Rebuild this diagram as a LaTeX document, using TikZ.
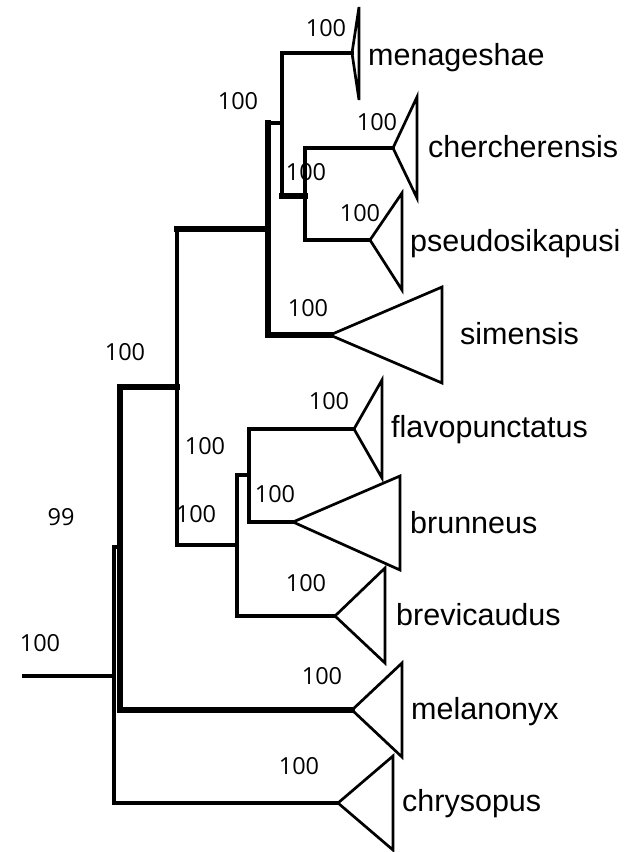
\documentclass[tikz,border=0pt]{standalone}
\usepackage{fontspec}
\setmainfont{Liberation Sans}
\newfontfamily\numfont{Open Sans}
\begin{document}
\begin{tikzpicture}[x=1pt,y=-1pt,
  thinbr/.style={line width=3.3pt,line cap=rect,line join=miter},
  medbr/.style={line width=4pt,line cap=rect,line join=miter},
  thickbr/.style={line width=5.2pt,line cap=rect,line join=miter},
  clade/.style={line width=2.7pt,line join=miter},
  supp/.style={font=\numfont\fontsize{23.5}{28}\selectfont,inner sep=0pt,anchor=base},
  taxon/.style={font=\fontsize{30.5}{36}\selectfont,inner sep=0pt,anchor=base west}]
\useasboundingbox (0,0) rectangle (638,852);
% ---- tree coordinates ----
\coordinate (root) at (24,676);
\coordinate (rA) at (114,676);
\coordinate (rAt) at (114,547);
\coordinate (rAtk) at (120,547);
\coordinate (rAb) at (114,803);
\coordinate (chrA) at (338,803);
\coordinate (bT) at (120,387);
\coordinate (bB) at (120,710);
\coordinate (melA) at (352,710);
\coordinate (cL) at (177,387);
\coordinate (cT) at (177,229);
\coordinate (cB) at (177,545);
\coordinate (dT) at (268,229);
\coordinate (dTop) at (268,123);
\coordinate (dB) at (268,335);
\coordinate (simA) at (330,335);
\coordinate (eT) at (282,123);
\coordinate (eTop) at (282,53);
\coordinate (eB) at (282,196);
\coordinate (menA) at (352,53);
\coordinate (fL) at (305,196);
\coordinate (fT) at (305,148);
\coordinate (fB) at (305,240);
\coordinate (cheA) at (393,148);
\coordinate (pseA) at (370,240);
\coordinate (gL) at (237,545);
\coordinate (gT) at (237,475);
\coordinate (gB) at (237,616);
\coordinate (breA) at (335,616);
\coordinate (hL) at (249,475);
\coordinate (hT) at (249,429);
\coordinate (hB) at (249,522);
\coordinate (flaA) at (354,429);
\coordinate (bruA) at (293,522);
% ---- branches ----
\draw[thinbr] (root) -- (rA);
\draw[thinbr] (rAtk) -- (rAt) -- (rAb) -- (chrA);
\draw[thickbr] (bT) -- (bB) -- (melA);
\draw[thickbr] (bT) -- (cL);
\draw[medbr] (cT) -- (cB) -- (gL);
\draw[thickbr] (cT) -- (dT);
\draw[thickbr] (dTop) -- (dB) -- (simA);
\draw[thinbr] (dTop) -- (eT);
\draw[thinbr] (menA) -- (eTop) -- (eB);
\draw[thickbr] (eB) -- (fL);
\draw[thinbr] (cheA) -- (fT) -- (fB) -- (pseA);
\draw[medbr] (gT) -- (gB) -- (breA);
\draw[thinbr] (gT) -- (hL);
\draw[thinbr] (flaA) -- (hT) -- (hB) -- (bruA);
% ---- collapsed clades ----
\coordinate (menT) at (359,7);   \coordinate (menB) at (359,100);
\coordinate (cheT) at (417,97);  \coordinate (cheB) at (417,198);
\coordinate (pseT) at (402,193); \coordinate (pseB) at (402,290);
\coordinate (simT) at (442,287); \coordinate (simB) at (442,383);
\coordinate (flaT) at (382,380); \coordinate (flaB) at (382,478);
\coordinate (bruT) at (400,476); \coordinate (bruB) at (400,570);
\coordinate (breT) at (385,568); \coordinate (breB) at (385,663);
\coordinate (melT) at (402,663); \coordinate (melB) at (402,757);
\coordinate (chrT) at (393,756); \coordinate (chrB) at (393,850);
\draw[clade] (menA) -- (menT) -- (menB) -- cycle;
\draw[clade] (cheA) -- (cheT) -- (cheB) -- cycle;
\draw[clade] (pseA) -- (pseT) -- (pseB) -- cycle;
\draw[clade] (simA) -- (simT) -- (simB) -- cycle;
\draw[clade] (flaA) -- (flaT) -- (flaB) -- cycle;
\draw[clade] (bruA) -- (bruT) -- (bruB) -- cycle;
\draw[clade] (breA) -- (breT) -- (breB) -- cycle;
\draw[clade] (melA) -- (melT) -- (melB) -- cycle;
\draw[clade] (chrA) -- (chrT) -- (chrB) -- cycle;
% ---- taxon names ----
\node[taxon] (tmen) at (368,65) {menageshae};
\node[taxon] (tche) at (428,157) {chercherensis};
\node[taxon] (tpse) at (410,251) {pseudosikapusi};
\node[taxon] (tsim) at (460,344) {simensis};
\node[taxon] (tfla) at (391,437) {flavopunctatus};
\node[taxon] (tbru) at (410,533) {brunneus};
\node[taxon] (tbre) at (396,625) {brevicaudus};
\node[taxon] (tmel) at (411,719) {melanonyx};
\node[taxon] (tchr) at (402,811) {chrysopus};
% ---- support values ----
\node[supp] (s1) at (326,36.5) {100};
\node[supp] (s2) at (238,109) {100};
\node[supp] (s3) at (377,130.5) {100};
\node[supp] (s4) at (306,180.5) {100};
\node[supp] (s5) at (360,221.5) {100};
\node[supp] (s6) at (308,316.5) {100};
\node[supp] (s7) at (125,360.5) {100};
\node[supp] (s8) at (329,409.5) {100};
\node[supp] (s9) at (205,454.5) {100};
\node[supp] (s10) at (196,522.5) {100};
\node[supp] (s11) at (275,502.5) {100};
\node[supp] (s12) at (306,591.5) {100};
\node[supp] (s13) at (61,525.5) {99};
\node[supp] (s14) at (40,651.5) {100};
\node[supp] (s15) at (322,684.5) {100};
\node[supp] (s16) at (299,774.5) {100};
\end{tikzpicture}
\end{document}
